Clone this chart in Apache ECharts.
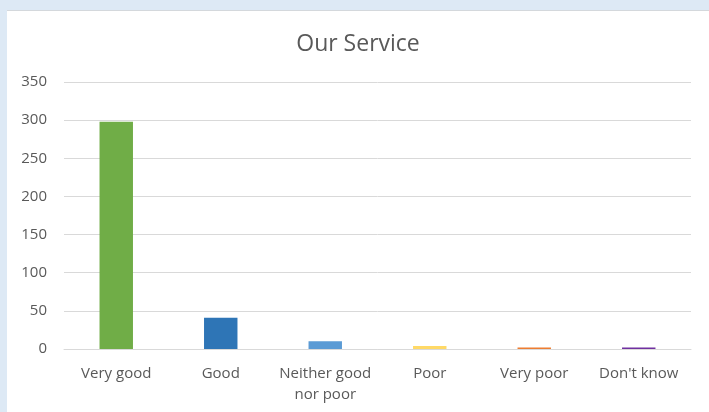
<!DOCTYPE html>
<html>
<head>
<meta charset="utf-8">
<script src="https://cdn.jsdelivr.net/npm/echarts@6/dist/echarts.min.js"></script>
<style>
html,body{margin:0;padding:0;width:709px;height:412px;background:#dde9f5;overflow:hidden;}
#chart{position:absolute;left:7px;top:10px;width:702px;height:402px;background:#ffffff;border-top:1px solid #d4d8dc;box-sizing:border-box;}
</style>
</head>
<body>
<div id="chart"></div>
<script>
const categories = ['Very good', 'Good', 'Neither good\nnor poor', 'Poor', 'Very poor', "Don't know"];
const values = [298, 41, 10, 4, 2, 2];
const barColors = ['#70ad47', '#2e75b6', '#5b9bd5', '#ffd966', '#ed7d31', '#7030a0'];
const yTicks = {min: 0, max: 350, interval: 50};

const chart = echarts.init(document.getElementById('chart'));
chart.setOption({
  animation: false,
  title: {
    text: 'Our Service',
    left: 'center',
    top: 17,
    textStyle: {fontFamily: 'Open Sans', fontWeight: 'normal', fontSize: 23, color: '#595959'}
  },
  grid: {left: 57, right: 18, top: 71, bottom: 63, containLabel: false},
  xAxis: {
    type: 'category',
    data: categories,
    axisLine: {show: true, lineStyle: {color: '#d9d9d9'}},
    axisTick: {show: false},
    axisLabel: {color: '#595959', fontFamily: 'Open Sans', fontSize: 15, margin: 14, lineHeight: 21, interval: 0}
  },
  yAxis: {
    type: 'value',
    min: yTicks.min, max: yTicks.max, interval: yTicks.interval,
    axisLine: {show: false},
    axisTick: {show: false},
    splitLine: {lineStyle: {color: '#d9d9d9', width: 1}},
    axisLabel: {color: '#595959', fontFamily: 'Open Sans', fontSize: 15, margin: 17}
  },
  series: [{
    type: 'bar',
    data: values.map((v, i) => ({value: v, itemStyle: {color: barColors[i]}})),
    barWidth: '32%'
  }]
});
</script>
</body>
</html>
